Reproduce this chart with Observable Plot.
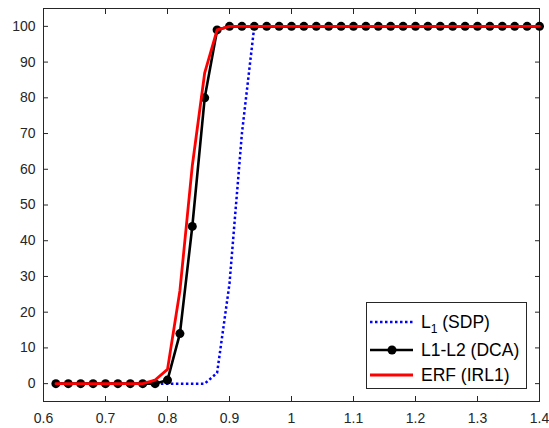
<!DOCTYPE html>
<html><head><meta charset="utf-8">
<script src="https://cdn.jsdelivr.net/npm/d3@7"></script>
<script src="https://cdn.jsdelivr.net/npm/@observablehq/plot@0.6"></script>
<style>
body{margin:0;background:#fff;}
#wrap{position:relative;width:549px;height:428px;}
#legend{position:absolute;left:366px;top:302px;}
</style></head><body><div id="wrap"></div>
<script>
const xValues = [0.62,0.64,0.66,0.68,0.70,0.72,0.74,0.76,0.78,0.80,0.82,0.84,0.86,0.88,0.90,0.92,0.94,0.96,0.98,1.00,
  1.02,1.04,1.06,1.08,1.10,1.12,1.14,1.16,1.18,1.20,1.22,1.24,1.26,1.28,1.30,1.32,1.34,1.36,1.38,1.40];
const l1SDP = [0,0,0,0,0,0,0,0,0,0,0,0,0,3,28,70,100,100,100,100,
  100,100,100,100,100,100,100,100,100,100,100,100,100,100,100,100,100,100,100,100];
const l1l2DCA = [0,0,0,0,0,0,0,0,0,1,14,44,80,99,100,100,100,100,100,100,
  100,100,100,100,100,100,100,100,100,100,100,100,100,100,100,100,100,100,100,100];
const erfIRL1 = [0,0,0,0,0,0,0,0,1,4,26,61,87,99,100,100,100,100,100,100,
  100,100,100,100,100,100,100,100,100,100,100,100,100,100,100,100,100,100,100,100];
const xTicks = [0.6,0.7,0.8,0.9,1.0,1.1,1.2,1.3,1.4];
const xTickLabels = ["0.6","0.7","0.8","0.9","1","1.1","1.2","1.3","1.4"];
const yTicks = [0,10,20,30,40,50,60,70,80,90,100];
const yTickLabels = ["0","10","20","30","40","50","60","70","80","90","100"];
const seriesNames = ["L1 (SDP)","L1-L2 (DCA)","ERF (IRL1)"];
const seriesColors = ["#0000ff","#000000","#ff0000"];

const mk = ys => xValues.map((x,i)=>({x, y: ys[i]}));
const dBlue = mk(l1SDP), dBlack = mk(l1l2DCA), dRed = mk(erfIRL1);
const axisColor = "#262626";
const xfmt = d => xTickLabels[xTicks.findIndex(t => Math.abs(t-d)<1e-9)];
const yfmt = d => yTickLabels[yTicks.indexOf(d)];

const chart = Plot.plot({
  width: 549, height: 428,
  marginLeft: 43, marginRight: 10, marginTop: 8, marginBottom: 27,
  style: {fontFamily: "'Liberation Sans', Arial, sans-serif", fontSize: "14px", color: axisColor, background: "white", overflow: "visible"},
  x: {domain: [0.6, 1.4]},
  y: {domain: [-5, 105]},
  marks: [
    Plot.frame({stroke: axisColor, strokeWidth: 1}),
    Plot.axisX({anchor: "bottom", ticks: xTicks, tickFormat: xfmt, tickSize: -5, tickPadding: 17, label: null, stroke: axisColor, fill: axisColor}),
    Plot.axisX({anchor: "top", ticks: xTicks, tickFormat: () => "", tickSize: -5, label: null, stroke: axisColor}),
    Plot.axisY({anchor: "left", ticks: yTicks, tickFormat: yfmt, tickSize: -5, tickPadding: 13, label: null, stroke: axisColor, fill: axisColor}),
    Plot.axisY({anchor: "right", ticks: yTicks, tickFormat: () => "", tickSize: -5, label: null, stroke: axisColor}),
    Plot.line(dBlue, {x: "x", y: "y", stroke: seriesColors[0], strokeWidth: 2.5, strokeDasharray: "2.5,2.5", strokeLinecap: "butt"}),
    Plot.line(dBlack, {x: "x", y: "y", stroke: seriesColors[1], strokeWidth: 2.6}),
    Plot.dot(dBlack, {x: "x", y: "y", r: 4.5, fill: seriesColors[1], stroke: "none"}),
    Plot.line(dRed, {x: "x", y: "y", stroke: seriesColors[2], strokeWidth: 2.8})
  ]
});
const wrap = document.getElementById("wrap");
wrap.appendChild(chart);

// Legend
const W = 161, H = 87;
const leg = d3.select(wrap).append("svg").attr("id","legend").attr("width", W).attr("height", H)
  .style("font-family","'Liberation Sans', Arial, sans-serif");
leg.append("rect").attr("x",0.5).attr("y",0.5).attr("width",W-1).attr("height",H-1)
  .attr("fill","white").attr("stroke",axisColor).attr("stroke-width",1);
const rowsY = [20, 48, 73];
const styles = [
  {w: 2.5, dash: "2.5,2.5"}, {w: 2.6, dash: null}, {w: 2.8, dash: null}
];
seriesNames.forEach((name, i) => {
  const y = rowsY[i];
  const ln = leg.append("line").attr("x1",4).attr("x2",47).attr("y1",y).attr("y2",y)
    .attr("stroke",seriesColors[i]).attr("stroke-width",styles[i].w);
  if (styles[i].dash) ln.attr("stroke-dasharray",styles[i].dash);
  if (i === 1) leg.append("circle").attr("cx",26).attr("cy",y).attr("r",4.5).attr("fill",seriesColors[i]);
  const t = leg.append("text").attr("x",55).attr("y",y+6).attr("font-size","17.5px").attr("fill","#000");
  if (i === 0) {
    t.append("tspan").text("L");
    t.append("tspan").attr("font-size","12px").attr("dy",5).text("1");
    t.append("tspan").attr("dy",-5).text(" (SDP)");
  } else {
    t.text(name);
  }
});
</script></body></html>
